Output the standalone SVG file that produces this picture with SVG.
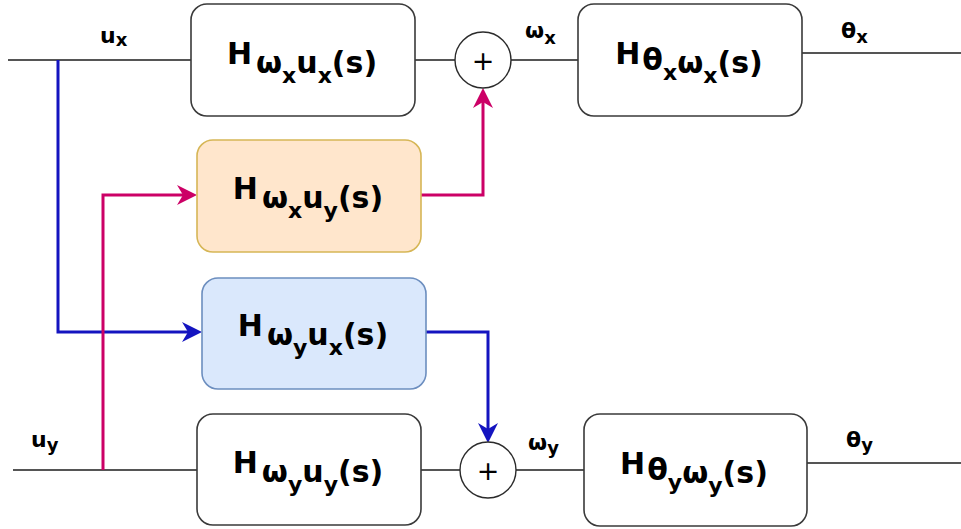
<svg xmlns="http://www.w3.org/2000/svg" width="961" height="529" viewBox="0 0 961 529">
  <style>
    .box { fill: #ffffff; stroke: #3a3a3a; stroke-width: 1.6; }
    .orange { fill: #ffe6cc; stroke: #d6b656; }
    .blue { fill: #dae8fc; stroke: #6c8ebf; }
    .sum { fill: #ffffff; stroke: #2b2b2b; stroke-width: 1.4; }
    .wire { fill: none; stroke: #555555; stroke-width: 2; }
    .pink { fill: none; stroke: #cc0066; stroke-width: 3; }
    .navy { fill: none; stroke: #1414c0; stroke-width: 3; }
    .tf { font-family: "DejaVu Sans", Verdana, sans-serif; font-weight: bold; font-size: 30px; fill: #000; }
    .tf .s2 { font-size: 22px; }
    .lbl { font-family: "DejaVu Sans", Verdana, sans-serif; font-weight: bold; font-size: 22px; fill: #000; }
    .lbl .s { font-size: 18px; }
    .plus { font-family: "DejaVu Sans", Verdana, sans-serif; font-size: 27px; fill: #000; }
  </style>
  <defs>
    <marker id="headPink" markerUnits="userSpaceOnUse" markerWidth="22" markerHeight="22" viewBox="0 0 22 22" refX="10" refY="11" orient="auto">
      <path d="M0,1 L20,11 L0,21 L6,11 Z" fill="#cc0066"/>
    </marker>
    <marker id="headBlue" markerUnits="userSpaceOnUse" markerWidth="22" markerHeight="22" viewBox="0 0 22 22" refX="10" refY="11" orient="auto">
      <path d="M0,1 L20,11 L0,21 L6,11 Z" fill="#1414c0"/>
    </marker>
  </defs>

  <!-- connectors -->
  <g id="connectors">
    <path class="wire" d="M8,60 H191"/>
    <path class="wire" d="M415,60 H455"/>
    <path class="wire" d="M511,60 H578"/>
    <path class="wire" d="M802,53 H961"/>
    <path class="wire" d="M13,470 H197"/>
    <path class="wire" d="M421,470 H460"/>
    <path class="wire" d="M516,470 H584"/>
    <path class="wire" d="M807,463 H961"/>
    <path class="navy" d="M58,60 V332 H192" marker-end="url(#headBlue)"/>
    <path class="pink" d="M103,470 V195 H187" marker-end="url(#headPink)"/>
    <path class="pink" d="M421,195 H483 V98" marker-end="url(#headPink)"/>
    <path class="navy" d="M426,332 H488 V433" marker-end="url(#headBlue)"/>
  </g>

  <!-- signal labels -->
  <g id="labels">
    <text class="lbl" x="100" y="43">u<tspan class="s" dy="3">x</tspan></text>
    <text class="lbl" x="525" y="38">ω<tspan class="s" dy="6">x</tspan></text>
    <text class="lbl" x="841" y="38">θ<tspan class="s" dy="5">x</tspan></text>
    <text class="lbl" x="31" y="447">u<tspan class="s" dy="4">y</tspan></text>
    <text class="lbl" x="528" y="450">ω<tspan class="s" dy="4">y</tspan></text>
    <text class="lbl" x="846" y="447">θ<tspan class="s" dy="4">y</tspan></text>
  </g>

  <g id="H_wx_ux">
    <rect class="box" x="191" y="4" width="224" height="112" rx="16"/>
    <text class="tf" x="302" y="64" text-anchor="middle">H<tspan dx="4" dy="9">ω</tspan><tspan class="s2" dy="10">x</tspan><tspan dy="-10">u</tspan><tspan class="s2" dy="10">x</tspan><tspan dy="-10">(s)</tspan></text>
  </g>

  <g id="sum_x">
    <circle class="sum" cx="483" cy="60" r="28"/>
    <text class="plus" x="483" y="70" text-anchor="middle">+</text>
  </g>

  <g id="H_tx_wx">
    <rect class="box" x="578" y="4" width="224" height="112" rx="16"/>
    <text class="tf" x="689" y="64" text-anchor="middle">H<tspan dx="2" dy="6">θ</tspan><tspan class="s2" dy="10">x</tspan><tspan dy="-7">ω</tspan><tspan class="s2" dy="10">x</tspan><tspan dy="-10">(s)</tspan></text>
  </g>

  <g id="H_wx_uy">
    <rect class="box orange" x="197" y="140" width="224" height="112" rx="16"/>
    <text class="tf" x="308" y="199" text-anchor="middle">H<tspan dx="4" dy="9">ω</tspan><tspan class="s2" dy="10">x</tspan><tspan dy="-10">u</tspan><tspan class="s2" dy="10">y</tspan><tspan dy="-10">(s)</tspan></text>
  </g>

  <g id="H_wy_ux">
    <rect class="box blue" x="202" y="278" width="224" height="111" rx="16"/>
    <text class="tf" x="313" y="336" text-anchor="middle">H<tspan dx="4" dy="9">ω</tspan><tspan class="s2" dy="10">y</tspan><tspan dy="-10">u</tspan><tspan class="s2" dy="10">x</tspan><tspan dy="-10">(s)</tspan></text>
  </g>

  <g id="H_wy_uy">
    <rect class="box" x="197" y="414" width="224" height="111" rx="16"/>
    <text class="tf" x="308" y="473" text-anchor="middle">H<tspan dx="4" dy="9">ω</tspan><tspan class="s2" dy="10">y</tspan><tspan dy="-10">u</tspan><tspan class="s2" dy="10">y</tspan><tspan dy="-10">(s)</tspan></text>
  </g>

  <g id="sum_y">
    <circle class="sum" cx="488" cy="470" r="28"/>
    <text class="plus" x="488" y="480" text-anchor="middle">+</text>
  </g>

  <g id="H_ty_wy">
    <rect class="box" x="584" y="414" width="223" height="112" rx="16"/>
    <text class="tf" x="694" y="474" text-anchor="middle">H<tspan dx="2" dy="6">θ</tspan><tspan class="s2" dy="10">y</tspan><tspan dy="-7">ω</tspan><tspan class="s2" dy="10">y</tspan><tspan dy="-10">(s)</tspan></text>
  </g>
</svg>
